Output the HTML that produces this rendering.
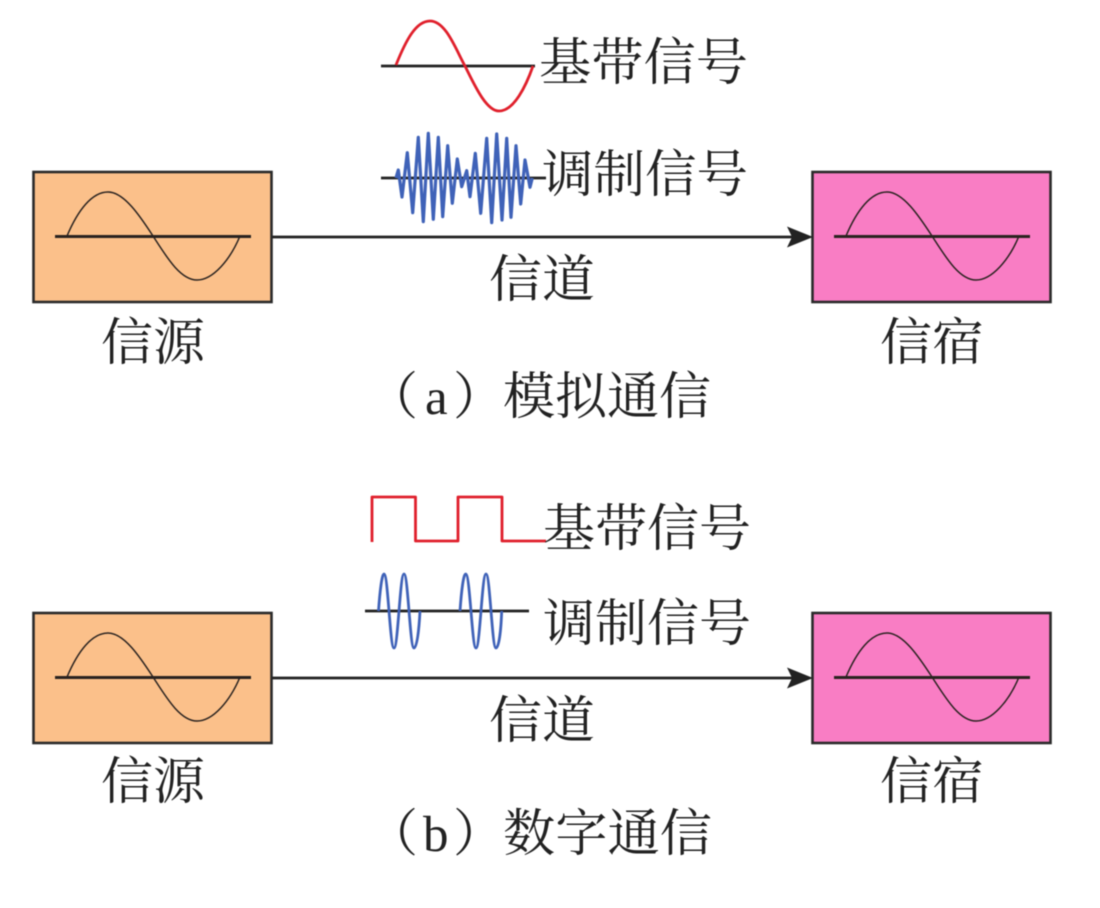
<!DOCTYPE html>
<html lang="zh">
<head>
<meta charset="utf-8">
<title>模拟通信与数字通信</title>
<style>
html,body{margin:0;padding:0;background:#fff;width:1100px;height:908px;overflow:hidden}
svg{display:block;filter:blur(0.45px)}
text{font-family:"Liberation Serif","Noto Serif CJK SC",serif;font-size:51px;fill:#222}
</style>
</head>
<body>
<svg width="1100" height="908" viewBox="0 0 1100 908" xmlns="http://www.w3.org/2000/svg">
<defs>
  <g id="sine" fill="none" stroke="#2a2320">
    <path d="M55 236.500H251" stroke-width="3"/>
    <path d="M67 236C78 210 92 192 108 192C124 192 140 216 153 236C166 256 180 280 197 280C213 280 230 260 240 236" stroke-width="1.500"/>
  </g>
  <g id="arrow">
    <path d="M272 237H795" stroke="#222" stroke-width="2.800" fill="none"/>
    <path d="M813 237L787 226.500L792 237L787 247.500Z" fill="#222"/>
  </g>
  <g id="panel">
    <rect x="33.500" y="172" width="238" height="130" fill="#fbc08a" stroke="#2a2a2a" stroke-width="2.600"/>
    <use href="#sine"/>
    <rect x="812.500" y="172" width="238" height="130" fill="#f97dc4" stroke="#2a2a2a" stroke-width="2.600"/>
    <use href="#sine" x="779"/>
    <use href="#arrow"/>
  </g>
</defs>

<use href="#panel"/>
<use href="#panel" y="441"/>

<!-- top signals -->
<path d="M381 66H535" stroke="#222" stroke-width="2.800" fill="none"/>
<path d="M396 65C406 40 416 21 430 21C446 21 456 50 465 66C474 84 486 111 499 111C514 111 526 86 533 66" stroke="#e0202c" stroke-width="2.800" fill="none"/>
<path d="M381 178H546" stroke="#222" stroke-width="2.800" fill="none"/>
<path d="M396 178L398.300 170L402 197L407.300 152.700L412.700 212.700L418.300 137.300L423.300 221.700L428.300 133.300L433.300 219.300L438.300 137.300L442.700 216.700L447.700 145.700L452.300 203.300L457.300 159L461.700 186.700L466.700 170.700L470 196.700L475.300 153.300L480.700 213.300L486.700 138.300L491.700 222.700L496.700 134L502 220L506.700 138.300L511 217.300L516 145.700L520.700 204L525 160L530 187.300L532.300 178" stroke="#3f62b8" stroke-width="3.200" stroke-linejoin="round" fill="none"/>

<!-- bottom signals -->
<path d="M372 542V497H415.500V541H458V497H502V541H546" stroke="#e0202c" stroke-width="2.800" fill="none" stroke-linejoin="round"/>
<path d="M365 611H529" stroke="#222" stroke-width="2.800" fill="none"/>
<path d="M378.500 611C380 590 382 574 384 574C388 574 390 648 394 648C398 648 400 574 404 574C408 574 410 648 414 648C417 648 419 630 420 611" stroke="#3f62b8" stroke-width="2.800" fill="none"/>
<path d="M460 611C461.500 590 463.500 574 465.700 574C470 574 472 648 476 648C480 648 482 574 486 574C490 574 492 648 496 648C499 648 501 630 501.700 611" stroke="#3f62b8" stroke-width="2.800" fill="none"/>

<!-- labels -->
<text x="539" y="80" textLength="209" lengthAdjust="spacingAndGlyphs">基带信号</text>
<text x="542" y="192" textLength="206" lengthAdjust="spacingAndGlyphs">调制信号</text>
<text x="489" y="297" textLength="106" lengthAdjust="spacingAndGlyphs">信道</text>
<text x="101" y="360" textLength="104" lengthAdjust="spacingAndGlyphs">信源</text>
<text x="880" y="360" textLength="104" lengthAdjust="spacingAndGlyphs">信宿</text>
<text x="367" y="414">（</text>
<text x="425" y="414">a</text>
<text x="453" y="414">）</text>
<text x="503" y="414" textLength="208" lengthAdjust="spacingAndGlyphs">模拟通信</text>

<text x="543" y="546" textLength="208" lengthAdjust="spacingAndGlyphs">基带信号</text>
<text x="543" y="641" textLength="208" lengthAdjust="spacingAndGlyphs">调制信号</text>
<text x="489" y="738" textLength="106" lengthAdjust="spacingAndGlyphs">信道</text>
<text x="101" y="799" textLength="104" lengthAdjust="spacingAndGlyphs">信源</text>
<text x="880" y="799" textLength="104" lengthAdjust="spacingAndGlyphs">信宿</text>
<text x="367" y="851">（</text>
<text x="423" y="851">b</text>
<text x="453" y="851">）</text>
<text x="503" y="851" textLength="209" lengthAdjust="spacingAndGlyphs">数字通信</text>
</svg>
</body>
</html>
